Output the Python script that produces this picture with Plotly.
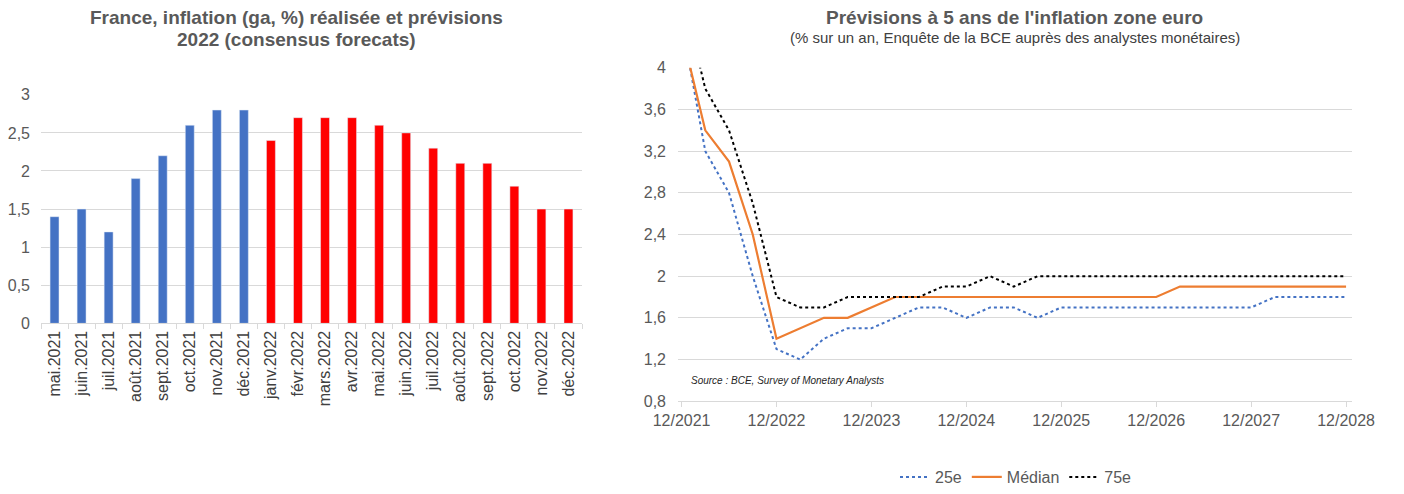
import plotly.graph_objects as go

# ---------- data: left chart ----------
months = ["mai.2021", "juin.2021", "juil.2021", "août.2021", "sept.2021", "oct.2021",
          "nov.2021", "déc.2021", "janv.2022", "févr.2022", "mars.2022", "avr.2022",
          "mai.2022", "juin.2022", "juil.2022", "août.2022", "sept.2022", "oct.2022",
          "nov.2022", "déc.2022"]
inflation = [1.4, 1.5, 1.2, 1.9, 2.2, 2.6, 2.8, 2.8, 2.4, 2.7, 2.7, 2.7,
             2.6, 2.5, 2.3, 2.1, 2.1, 1.8, 1.5, 1.5]
n_realised = 8

# ---------- data: right chart (quarterly, 12/2021 .. 12/2028) ----------
quarters = list(range(29))
p25 = [4.45, 3.2, 2.8, 2.0, 1.3, 1.2, 1.4, 1.5, 1.5, 1.6, 1.7, 1.7, 1.6, 1.7, 1.7,
       1.6, 1.7, 1.7, 1.7, 1.7, 1.7, 1.7, 1.7, 1.7, 1.7, 1.8, 1.8, 1.8, 1.8]
median = [4.35, 3.4, 3.1, 2.4, 1.4, 1.5, 1.6, 1.6, 1.7, 1.8, 1.8, 1.8, 1.8, 1.8, 1.8,
          1.8, 1.8, 1.8, 1.8, 1.8, 1.8, 1.9, 1.9, 1.9, 1.9, 1.9, 1.9, 1.9, 1.9]
p75 = [4.75, 3.8, 3.4, 2.7, 1.8, 1.7, 1.7, 1.8, 1.8, 1.8, 1.8, 1.9, 1.9, 2.0, 1.9,
       2.0, 2.0, 2.0, 2.0, 2.0, 2.0, 2.0, 2.0, 2.0, 2.0, 2.0, 2.0, 2.0, 2.0]
year_ticks = [0, 4, 8, 12, 16, 20, 24, 28]
year_labels = ["12/2021", "12/2022", "12/2023", "12/2024", "12/2025", "12/2026",
               "12/2027", "12/2028"]

FONT = "Liberation Sans, Arial, sans-serif"
GRID = "#d9d9d9"
TXT = "#595959"

W, H = 1404, 494

def px_x(p):
    return p / W

def px_y(p):
    return 1 - p / H

fig = go.Figure()

bar_colors = ["#4472C4" if i < n_realised else "#FF0000" for i in range(len(months))]
fig.add_trace(go.Bar(x=months, y=inflation, marker_color=bar_colors, width=0.33,
                     showlegend=False, xaxis="x", yaxis="y", hoverinfo="x+y"))

fig.add_trace(go.Scatter(x=quarters, y=p25, mode="lines", name="25e",
                         line=dict(color="#4472C4", width=2, dash="dot"),
                         xaxis="x2", yaxis="y2"))
fig.add_trace(go.Scatter(x=quarters, y=median, mode="lines", name="Médian",
                         line=dict(color="#ED7D31", width=2.2),
                         xaxis="x2", yaxis="y2"))
fig.add_trace(go.Scatter(x=quarters, y=p75, mode="lines", name="75e",
                         line=dict(color="#000000", width=2, dash="dot"),
                         xaxis="x2", yaxis="y2"))

fig.update_layout(
    width=W, height=H,
    margin=dict(l=0, r=0, t=0, b=0),
    paper_bgcolor="white", plot_bgcolor="white",
    separators=", ",
    font=dict(family=FONT, size=16, color=TXT),
    xaxis=dict(domain=[px_x(41), px_x(582)], anchor="y", type="category",
               tickangle=-90, tickfont=dict(size=16, color="#404040"),
               showline=True, linecolor=GRID, linewidth=1,
               ticks="outside", ticklen=5, tickcolor=GRID, tickson="boundaries",
               showgrid=False, automargin=False, fixedrange=True),
    yaxis=dict(domain=[px_y(324), px_y(95)], anchor="x", range=[0, 3], dtick=0.5,
               tick0=0, showgrid=True, gridcolor=GRID, gridwidth=1, zeroline=False,
               tickfont=dict(size=16, color=TXT), ticks="", ticklabelstandoff=10,
               automargin=False, fixedrange=True),
    xaxis2=dict(domain=[px_x(678), px_x(1352)], anchor="y2", range=[-0.15, 28.25],
                tickvals=year_ticks, ticktext=year_labels,
                tickfont=dict(size=16, color=TXT),
                showline=True, linecolor=GRID, linewidth=1,
                ticks="outside", ticklen=5, tickcolor=GRID,
                showgrid=False, zeroline=False, automargin=False, fixedrange=True),
    yaxis2=dict(domain=[px_y(402), px_y(68)], anchor="x2", range=[0.8, 4], dtick=0.4,
                tick0=0.8, showgrid=True, gridcolor=GRID, gridwidth=1, zeroline=False,
                tickfont=dict(size=16, color=TXT), ticks="", ticklabelstandoff=11,
                automargin=False, fixedrange=True),
    legend=dict(orientation="h", x=px_x(1016), xanchor="center", y=px_y(478),
                yanchor="middle", font=dict(size=16, color=TXT),
                bgcolor="rgba(0,0,0,0)", tracegroupgap=0),
    showlegend=True,
)

annotations = [
    dict(text="<b>France, inflation (ga, %) réalisée et prévisions</b>",
         x=px_x(296), y=px_y(18), font=dict(size=19, color=TXT)),
    dict(text="<b>2022 (consensus forecats)</b>",
         x=px_x(296), y=px_y(40), font=dict(size=19, color=TXT)),
    dict(text="<b>Prévisions à 5 ans de l'inflation zone euro</b>",
         x=px_x(1015), y=px_y(18), font=dict(size=19, color=TXT)),
    dict(text="(% sur un an, Enquête de la BCE auprès des analystes monétaires)",
         x=px_x(1015), y=px_y(38), font=dict(size=15, color="#404040")),
    dict(text="<i>Source : BCE, Survey of Monetary Analysts</i>",
         x=px_x(689), y=px_y(381), xanchor="left", font=dict(size=10, color="#262626")),
]
for a in annotations:
    a.setdefault("xanchor", "center")
    a.update(xref="paper", yref="paper", yanchor="middle", showarrow=False)
fig.update_layout(annotations=annotations)

fig.write_html("out.html", config={"displayModeBar": False},
               post_script="document.body.style.margin='0px';")
